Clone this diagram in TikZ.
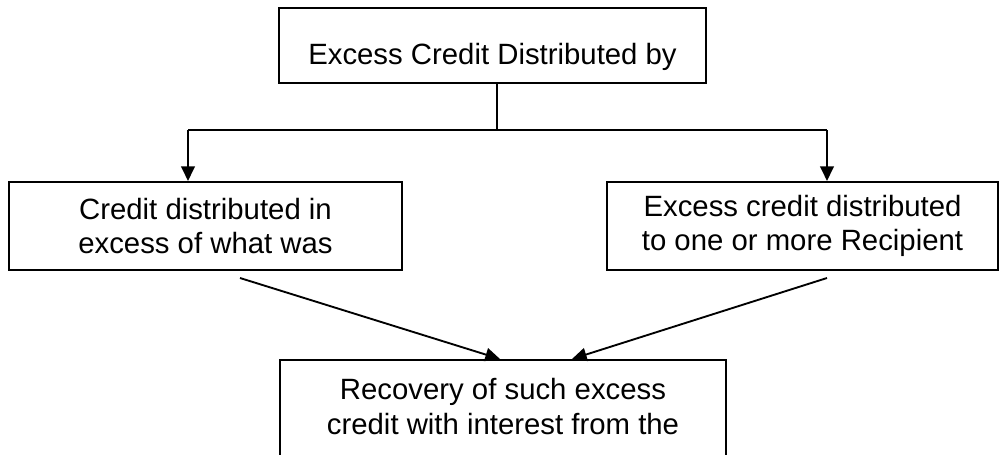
\documentclass[tikz,border=0pt]{standalone}
\usepackage{fontspec}
\setmainfont{Liberation Sans}
\usetikzlibrary{arrows.meta}

\begin{document}
\begin{tikzpicture}[x=0.75pt,y=-0.75pt,
    box/.style={draw,rectangle,line width=1.4pt,align=center,inner xsep=0pt,
      font=\fontsize{22pt}{26pt}\selectfont},
    tree/.style={line width=2pt},
    flow/.style={line width=1.4pt,-{Triangle[length=11pt,width=10pt]}}]
  \useasboundingbox (0,0) rectangle (1000,454);

  \node (dist) at (492.5,7) [box,anchor=north,minimum width=320.25pt,inner ysep=0pt,
    text height=42.75pt,text depth=13.5pt] {Excess Credit Distributed by};
  \node (inexcess) at (205.5,226) [box,minimum width=294.75pt,minimum height=66pt]
    {Credit distributed in\\excess of what was};
  \node (recip) at (802.5,226) [box,minimum width=293.25pt,minimum height=66pt]
    {Excess credit distributed\\to one or more Recipient};
  \node (recov) at (503,359) [box,anchor=north,minimum width=334.5pt,inner ysep=14pt,
    text depth=50pt] {Recovery of such excess\\credit with interest from the};

  \coordinate (fork) at (497,130);
  \coordinate (ljoint) at (188,130);
  \coordinate (rjoint) at (827,130);
  \coordinate (lfoot) at (240,278);
  \coordinate (rfoot) at (827,278);

  \draw[tree] (dist.south -| fork) -- (fork);
  \draw[tree] (ljoint) -- (rjoint);
  \draw[tree,-{Triangle[length=11pt,width=10pt]}] (ljoint) -- (ljoint |- inexcess.north);
  \draw[tree,-{Triangle[length=11pt,width=10pt]}] (rjoint) -- (rjoint |- recip.north);

  \draw[flow] (lfoot) -- (recov.north -| 500,0);
  \draw[flow] (rfoot) -- (recov.north -| 572,0);
\end{tikzpicture}
\end{document}
